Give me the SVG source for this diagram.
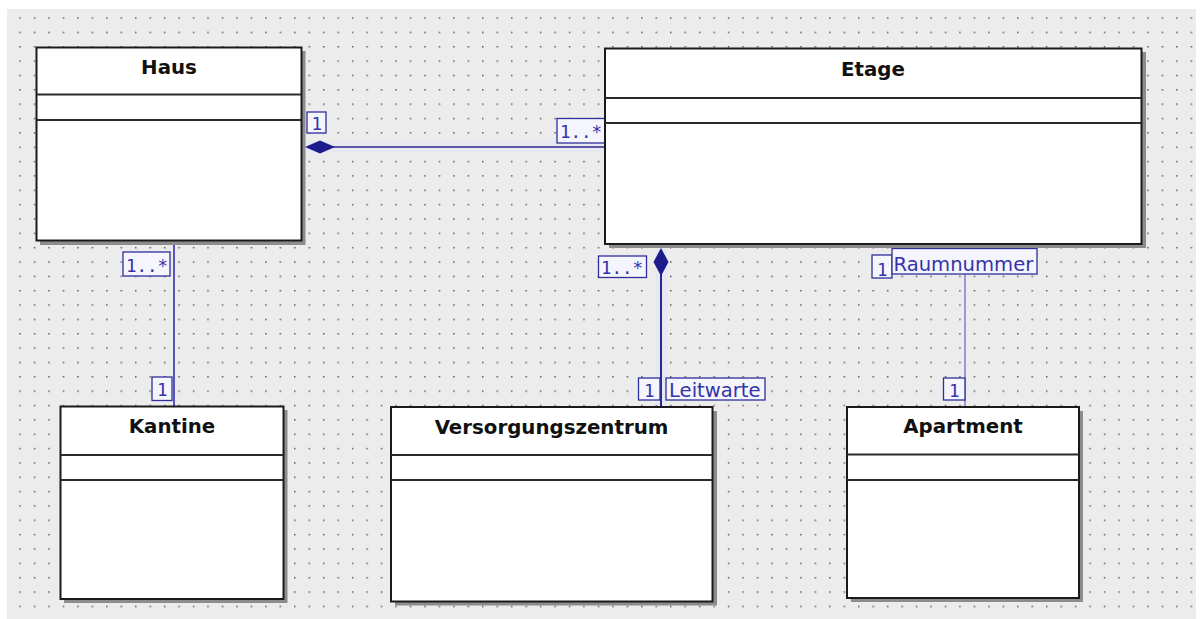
<svg xmlns="http://www.w3.org/2000/svg" width="1201" height="619" viewBox="0 0 1201 619">
<defs>
<pattern id="grid" x="19.3" y="17.3" width="14.46" height="14.35" patternUnits="userSpaceOnUse">
<rect x="0" y="0" width="1.5" height="1.5" fill="#5e5e5e"/>
</pattern>
<style>
.shadow{fill:#8c8c8c}
.box{fill:#ffffff;stroke:#1a1a1a;stroke-width:2}
.sep{stroke:#2a2a2a;stroke-width:2}
.title{font-family:"DejaVu Sans","Liberation Sans",sans-serif;font-weight:bold;font-size:19.8px;fill:#111111;text-anchor:middle}
.halo{stroke:#e8e8f2;stroke-width:12;fill:none}
.lbl{fill:#f5f5fd;stroke:#2e2e9c;stroke-width:1.3}
.mult{font-family:"DejaVu Sans Mono","Liberation Mono",monospace;font-size:17.5px;fill:#3434a8}
.role{font-family:"DejaVu Sans","Liberation Sans",sans-serif;font-size:19.6px;fill:#3434a8}
.dia{fill:#1c1c8c}
</style>
</defs>
<rect x="0" y="0" width="1201" height="619" fill="#ffffff"/>
<rect x="7" y="9" width="1189" height="610" fill="#ececec"/>
<rect x="7" y="9" width="1189" height="610" fill="url(#grid)"/>

<g id="connectors">
<line class="halo" x1="304" y1="147" x2="604" y2="147"/>
<line class="halo" x1="661" y1="246" x2="661" y2="405"/>
<line x1="320" y1="147" x2="604" y2="147" stroke="#2a2a8e" stroke-width="1.6"/>
<polygon class="dia" points="305,147 320,140.5 335,147 320,153.5"/>
<line x1="174" y1="242" x2="174" y2="406" stroke="#3030b0" stroke-width="1.6"/>
<line x1="661" y1="262" x2="661" y2="406" stroke="#2a2a8e" stroke-width="2"/>
<polygon class="dia" points="661,248 668.5,262 661,276 653.5,262"/>
<line x1="965" y1="245" x2="965" y2="406" stroke="#4646c8" stroke-width="1"/>

<rect class="lbl" x="307" y="112" width="19" height="21"/>
<text class="mult" x="311.5" y="130">1</text>
<rect class="lbl" x="557" y="118.5" width="48" height="24.5"/>
<text class="mult" x="560" y="138">1..*</text>

<rect class="lbl" x="123" y="252" width="47" height="24"/>
<text class="mult" x="126" y="271.5">1..*</text>
<rect class="lbl" x="152" y="377" width="20" height="23.5"/>
<text class="mult" x="157" y="396">1</text>

<rect class="lbl" x="598.5" y="256" width="48" height="21.5"/>
<text class="mult" x="601" y="273.5">1..*</text>
<rect class="lbl" x="638.5" y="378" width="21.5" height="22"/>
<text class="mult" x="644" y="396.5">1</text>
<rect class="lbl" x="666" y="378" width="99" height="22"/>
<text class="role" x="669" y="396.5">Leitwarte</text>

<rect class="lbl" x="872" y="255" width="20" height="23"/>
<text class="mult" x="877" y="276">1</text>
<rect class="lbl" x="892" y="248.5" width="145" height="25.5"/>
<text class="role" x="893.5" y="270.5">Raumnummer</text>
<rect class="lbl" x="943.5" y="378" width="21.5" height="22"/>
<text class="mult" x="949" y="396.5">1</text>
</g>

<g id="haus">
<rect class="shadow" x="40" y="51" width="265.5" height="194"/>
<rect class="box" x="36.5" y="47.5" width="265" height="193"/>
<line class="sep" x1="37" y1="94.5" x2="301" y2="94.5"/>
<line class="sep" x1="37" y1="120" x2="301" y2="120"/>
<text class="title" x="169" y="74">Haus</text>
</g>

<g id="etage">
<rect class="shadow" x="609" y="52" width="537" height="196"/>
<rect class="box" x="605" y="48.5" width="536.5" height="195.5"/>
<line class="sep" x1="605" y1="98" x2="1141" y2="98"/>
<line class="sep" x1="605" y1="123" x2="1141" y2="123"/>
<text class="title" x="873" y="76">Etage</text>
</g>

<g id="kantine">
<rect class="shadow" x="64" y="410" width="223.5" height="193"/>
<rect class="box" x="60.5" y="406.5" width="223" height="192.5"/>
<line class="sep" x1="61" y1="455" x2="283" y2="455"/>
<line class="sep" x1="61" y1="480" x2="283" y2="480"/>
<text class="title" x="172" y="433">Kantine</text>
</g>

<g id="versorgungszentrum">
<rect class="shadow" x="395" y="411" width="322" height="194.5"/>
<rect class="box" x="391" y="407" width="321.5" height="194.5"/>
<line class="sep" x1="391" y1="455" x2="712" y2="455"/>
<line class="sep" x1="391" y1="480" x2="712" y2="480"/>
<text class="title" x="551.5" y="434">Versorgungszentrum</text>
</g>

<g id="apartment">
<rect class="shadow" x="851" y="411" width="232" height="191"/>
<rect class="box" x="847" y="407" width="232" height="191"/>
<line class="sep" x1="847" y1="454.5" x2="1079" y2="454.5"/>
<line class="sep" x1="847" y1="480" x2="1079" y2="480"/>
<text class="title" x="963" y="433">Apartment</text>
</g>
</svg>
